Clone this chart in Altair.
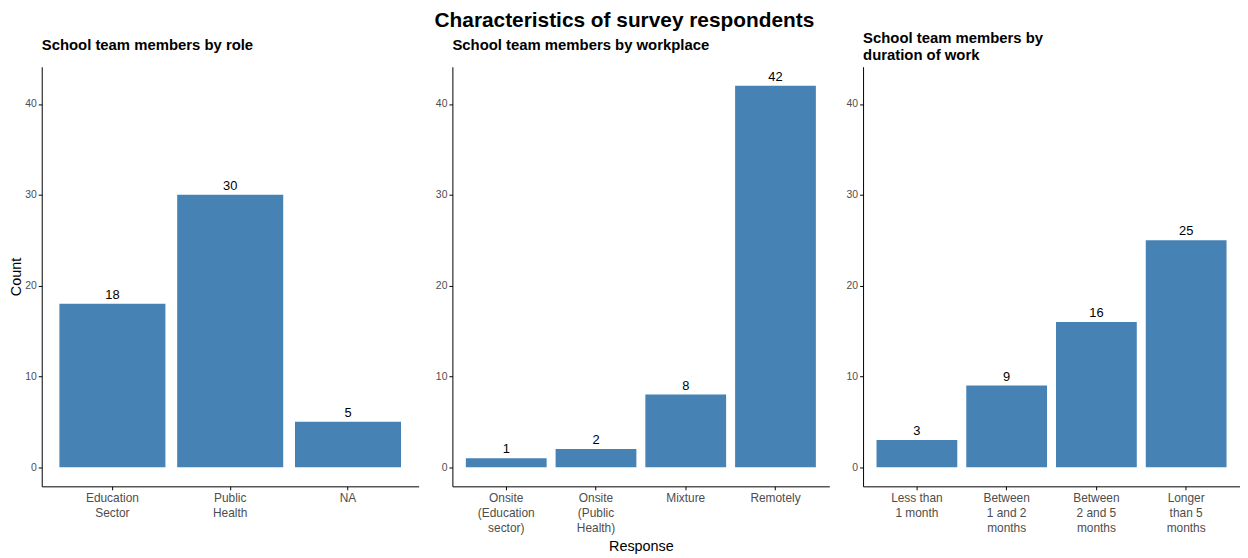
import altair as alt
import pandas as pd

role_cats = ["Education\nSector", "Public\nHealth", "NA"]
role_vals = [18, 30, 5]

work_cats = ["Onsite\n(Education\nsector)", "Onsite\n(Public\nHealth)", "Mixture", "Remotely"]
work_vals = [1, 2, 8, 42]

dur_cats = ["Less than\n1 month", "Between\n1 and 2\nmonths", "Between\n2 and 5\nmonths", "Longer\nthan 5\nmonths"]
dur_vals = [3, 9, 16, 25]

FONT = "Liberation Sans"
BAR = "#4682B4"
YDOM = [-2.1, 44.1]


def panel(cats, vals, title, ytitle=None, xtitle=None, title_offset=12):
    df = pd.DataFrame({"cat": cats, "n": vals})
    x = alt.X(
        "cat:N",
        sort=cats,
        scale=alt.Scale(paddingInner=0.1, paddingOuter=0.15),
        axis=alt.Axis(
            title=xtitle if xtitle else None,
            labelAngle=0,
            labelExpr="split(datum.label, '\\n')",
            labelFontSize=12,
            labelColor="#4D4D4D",
            labelLineHeight=15,
            labelPadding=3,
            tickSize=3.5,
            tickColor="#000000",
            domainColor="#000000",
            titleFontSize=14.5,
            titleFontWeight="normal",
            titleColor="#000000",
            titlePadding=6,
        ),
    )
    y = alt.Y(
        "n:Q",
        scale=alt.Scale(domain=YDOM, nice=False, zero=False),
        axis=alt.Axis(
            title=ytitle if ytitle else None,
            values=[0, 10, 20, 30, 40],
            grid=False,
            labelFontSize=10.5,
            labelColor="#4D4D4D",
            labelPadding=2,
            tickSize=3.5,
            tickColor="#000000",
            domainColor="#000000",
            titleFontSize=14.5,
            titleFontWeight="normal",
            titleColor="#000000",
            titlePadding=1,
        ),
    )
    base = alt.Chart(df)
    bars = base.mark_bar(color=BAR).encode(x=x, y=y, y2=alt.datum(0))
    text = base.mark_text(baseline="bottom", dy=-2, fontSize=13, font=FONT, color="#000000").encode(
        x=alt.X("cat:N", sort=cats), y=alt.Y("n:Q"), text=alt.Text("n:Q")
    )
    return (bars + text).properties(
        width=380,
        height=423,
        title=alt.TitleParams(
            title, anchor="start", frame="group", fontSize=15, fontWeight="bold",
            font=FONT, color="#000000", offset=title_offset, lineHeight=17,
        ),
    )


p1 = panel(role_cats, role_vals, "School team members by role", ytitle="Count", title_offset=14)
p2 = panel(work_cats, work_vals, "School team members by workplace", xtitle="Response", title_offset=14)
p3 = panel(dur_cats, dur_vals, ["School team members by", "duration of work"], title_offset=4)

chart = (
    alt.hconcat(p1, p2, p3, spacing=16)
    .resolve_scale(y="independent")
    .properties(
        padding={"left": 0, "top": 0, "right": 0, "bottom": 0},
        title=alt.TitleParams(
            "Characteristics of survey respondents", anchor="middle", fontSize=21,
            fontWeight="bold", font=FONT, color="#000000", offset=0,
        ),
    )
    .configure(font=FONT)
    .configure_view(strokeWidth=0, stroke="transparent")
)

chart.save("out.html", embed_options={"renderer": "svg", "actions": False})
